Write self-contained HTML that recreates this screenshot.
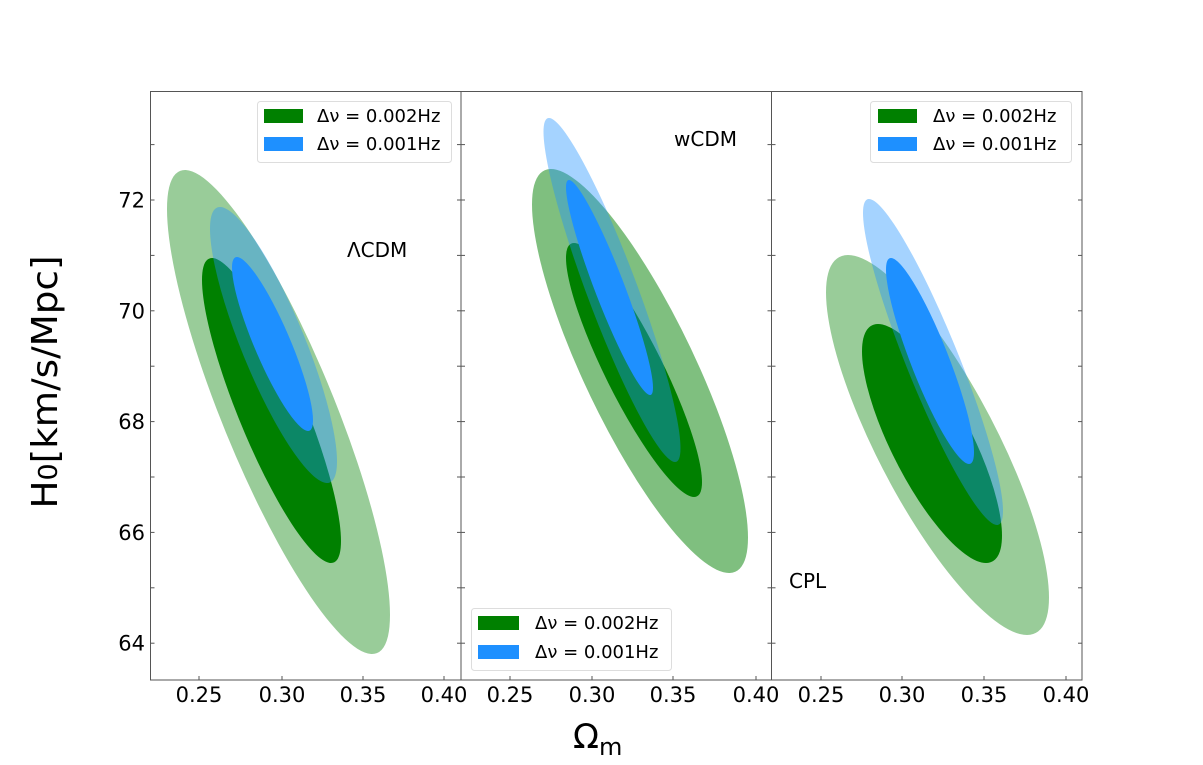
<!DOCTYPE html>
<html><head><meta charset="utf-8"><style>
html,body{margin:0;padding:0;background:#fff;}
svg{display:block;font-family:"DejaVu Sans","Liberation Sans",sans-serif;}
</style></head><body>
<svg id="s" width="1203" height="765" viewBox="0 0 1203 765" xmlns="http://www.w3.org/2000/svg">
<g id="ell"></g>
<g id="axes" fill="none" stroke="#555" stroke-width="1"></g>
<g id="lab" font-size="21" fill="#000"></g>

<!-- legends -->
<g font-size="18" fill="#000">
  <rect x="257.5" y="101.5" width="194" height="61" rx="3" fill="#fff" fill-opacity="0.8" stroke="#ddd"/>
  <rect x="264" y="109" width="39" height="14" fill="#008000"/>
  <rect x="264" y="137" width="39" height="14" fill="#1e90ff"/>
  <text x="317" y="122">Δν = 0.002Hz</text>
  <text x="317" y="150">Δν = 0.001Hz</text>

  <rect x="870.5" y="101.5" width="201" height="61" rx="3" fill="#fff" fill-opacity="0.8" stroke="#ddd"/>
  <rect x="878" y="109" width="39" height="14" fill="#008000"/>
  <rect x="878" y="137" width="39" height="14" fill="#1e90ff"/>
  <text x="933" y="122">Δν = 0.002Hz</text>
  <text x="933" y="150">Δν = 0.001Hz</text>

  <rect x="471.5" y="608.5" width="200" height="62" rx="3" fill="#fff" fill-opacity="0.8" stroke="#ddd"/>
  <rect x="478" y="616" width="41" height="14" fill="#008000"/>
  <rect x="478" y="645" width="41" height="14" fill="#1e90ff"/>
  <text x="535" y="629">Δν = 0.002Hz</text>
  <text x="535" y="658">Δν = 0.001Hz</text>
</g>

<g font-size="20" fill="#000">
  <text x="347" y="257">ΛCDM</text>
  <text x="674" y="146">wCDM</text>
  <text x="789" y="588">CPL</text>
</g>

<text transform="translate(57,382) rotate(-90)" text-anchor="middle" font-size="36" textLength="253" lengthAdjust="spacingAndGlyphs">H<tspan font-size="26" dy="0">0</tspan>[km/s/Mpc]</text>
<text x="573" y="748" font-size="34">Ω<tspan font-size="24" dy="7">m</tspan></text>
</svg>
<script>
var NS="http://www.w3.org/2000/svg";
function el(t,a,p){var e=document.createElementNS(NS,t);for(var k in a)e.setAttribute(k,a[k]);document.getElementById(p).appendChild(e);return e;}
function E(cx,cy,hx,hy,topx,fill){
  var off=topx-cx, sxy=-off*hy, l11=hx, l21=sxy/l11, l22=Math.sqrt(Math.max(hy*hy-l21*l21,1));
  el("circle",{cx:0,cy:0,r:1,fill:fill,transform:"matrix("+l11+","+l21+",0,"+l22+","+cx+","+cy+")"},"ell");
}
var LG="rgba(0,128,0,0.4)",LG2="rgba(0,128,0,0.5)",DG="#008000",LB="rgba(30,144,255,0.4)",B="#1e90ff";
// panel 1
E(278.5,412,111.5,242,185,LG);
E(271.5,410.5,69.5,152.5,212,DG);
E(273.5,345,63.5,138,220,LB);
E(272.5,344,40.5,87,237,B);
// panel 2
E(640,371,108,202,551,LG2);
E(634,370,68,127,574,DG);
E(612,290,68.5,172,549,LB);
E(609.5,287.5,43.5,107.5,569,B);
// panel 3
E(937.5,445,111.5,190,848,LG);
E(932,443.5,70,119.5,878,DG);
E(933,362,70,163,869,LB);
E(930,361,44,103,891,B);

// axes
var panels=[[150.5,461],[461,771.5],[771.5,1082]];
var xt=[[199,282,363,444],[510,592,673,756],[821,902,984,1066]];
var lbl=["0.25","0.30","0.35","0.40"];
panels.forEach(function(p,i){
  el("rect",{x:p[0],y:91.5,width:p[1]-p[0],height:588.5},"axes");
  for(var v=64;v<=73;v++){
    var y=200+(72-v)*55.4;
    el("line",{x1:p[0],y1:y,x2:p[0]+4,y2:y},"axes");
    el("line",{x1:p[1],y1:y,x2:p[1]-4,y2:y},"axes");
    if(i==0&&v%2==0){var t=el("text",{x:145,y:y+7.5,"text-anchor":"end"},"lab");t.textContent=v;}
  }
  xt[i].forEach(function(x,j){
    el("line",{x1:x,y1:680,x2:x,y2:676},"axes");
    var t=el("text",{x:x,y:702,"text-anchor":"middle"},"lab");t.textContent=lbl[j];
  });
});
</script>
</body></html>
